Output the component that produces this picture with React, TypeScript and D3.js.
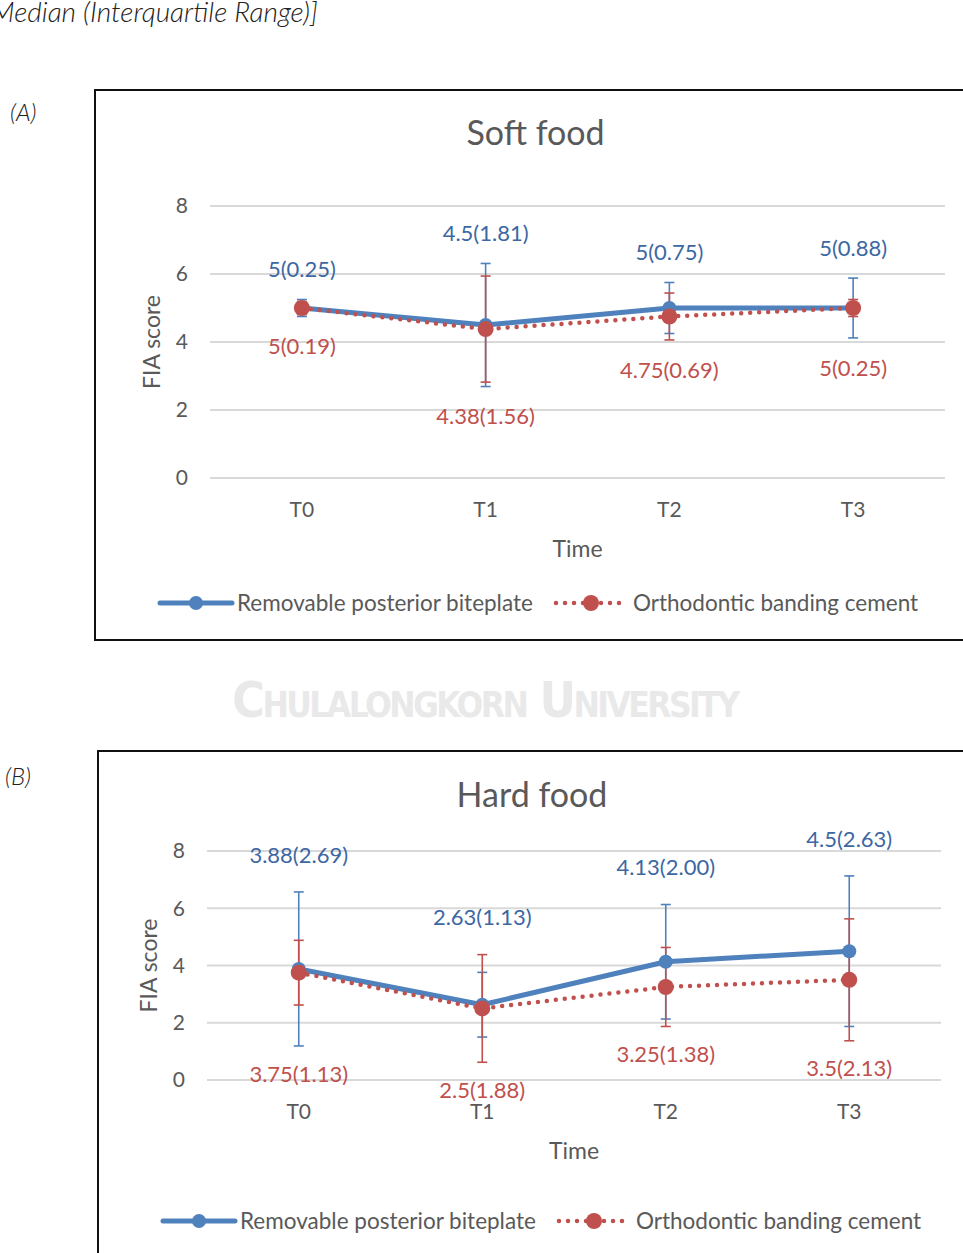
import React from 'react';
import * as d3 from 'd3';

// time points
const times = ['T0', 'T1', 'T2', 'T3'];
const yTicks = [0, 2, 4, 6, 8];

// soft food: median and interquartile range
const softBiteplate = [5, 4.5, 5, 5];
const softBiteplateIqr = [0.25, 1.81, 0.75, 0.88];
const softCement = [5, 4.38, 4.75, 5];
const softCementIqr = [0.19, 1.56, 0.69, 0.25];

// hard food
const hardBiteplate = [3.88, 2.63, 4.13, 4.5];
const hardBiteplateIqr = [2.69, 1.13, 2.0, 2.63];
const hardCement = [3.75, 2.5, 3.25, 3.5];
const hardCementIqr = [1.13, 1.88, 1.38, 2.13];

const seriesNames = ['Removable posterior biteplate', 'Orthodontic banding cement'];

const BLUE = '#4f81bd';
const BLUE_TEXT = '#3c67a3';
const RED = '#c0504d';
const GREY = '#595959';
const FONT = 'Lato, "Open Sans", sans-serif';

function Chart(props) {
    const { top, left, plotLeft, plotRight, plotTop, plotBottom, title, titleY, blue, blueIqr, red, redIqr,
        gapUp, gapDown, boxBottom, legendX, legendY } = props;

    const x = d3.scaleBand().domain(times).range([plotLeft, plotRight]).padding(0);
    const y = d3.scaleLinear().domain([0, 8]).range([plotBottom, plotTop]);
    const cx = (i) => x(times[i]) + x.bandwidth() / 2;

    const line = d3.line().x((d, i) => cx(i)).y(d => y(d));

    const errorBar = (vals, iqr, color, key) => vals.map((v, i) => {
        const y1 = y(v + iqr[i]), y2 = y(v - iqr[i]);
        return (
            <g key={key + i} stroke={color} strokeWidth={1.6}>
                <line x1={cx(i)} x2={cx(i)} y1={y1} y2={y2} />
                <line x1={cx(i) - 5} x2={cx(i) + 5} y1={y1} y2={y1} />
                <line x1={cx(i) - 5} x2={cx(i) + 5} y1={y2} y2={y2} />
            </g>
        );
    });

    const label = (v, iqr) => `${v}(${iqr.toFixed(2)})`;

    const midX = (plotLeft + plotRight) / 2;

    return (
        <g>
            <path d={`M${963},${top} H${left} V${boxBottom}${boxBottom < 1253 ? ' H963' : ''}`} fill="none" stroke="#111" strokeWidth={2} />
            <text x={midX - 42} y={titleY} dy="0.35em" textAnchor="middle" fontSize={34} fill={GREY} fontFamily={FONT}>{title}</text>

            {yTicks.map(t => (
                <g key={t}>
                    <line x1={plotLeft} x2={plotRight} y1={y(t)} y2={y(t)} stroke="#d9d9d9" strokeWidth={2} />
                    <text x={plotLeft - 22} y={y(t)} dy="0.35em" textAnchor="end" fontSize={21} fill={GREY} fontFamily={FONT}>{t}</text>
                </g>
            ))}

            <text transform={`translate(${plotLeft - 58},${y(4)}) rotate(-90)`} textAnchor="middle" dy="0.35em" fontSize={23} fill={GREY} fontFamily={FONT}>FIA score</text>

            {times.map((t, i) => (
                <text key={t} x={cx(i)} y={plotBottom + 32} dy="0.35em" textAnchor="middle" fontSize={21} fill={GREY} fontFamily={FONT}>{t}</text>
            ))}
            <text x={midX} y={plotBottom + 71} dy="0.35em" textAnchor="middle" fontSize={23} fill={GREY} fontFamily={FONT}>Time</text>

            <path d={line(blue)} fill="none" stroke={BLUE} strokeWidth={5} strokeLinejoin="round" />
            <path d={line(red)} fill="none" stroke={RED} strokeWidth={4.5} strokeDasharray="0 9" strokeLinecap="round" />

            {errorBar(blue, blueIqr, BLUE, 'b')}
            {errorBar(red, redIqr, RED, 'r')}

            {blue.map((v, i) => <circle key={'bc' + i} cx={cx(i)} cy={y(v)} r={7} fill={BLUE} />)}
            {red.map((v, i) => <circle key={'rc' + i} cx={cx(i)} cy={y(v)} r={8} fill={RED} />)}

            {blue.map((v, i) => {
                const hi = Math.max(v + blueIqr[i], red[i] + redIqr[i]);
                return <text key={'bl' + i} x={cx(i)} y={y(hi) - gapUp} dy="0.35em" textAnchor="middle" fontSize={22} fill={BLUE_TEXT} fontFamily={FONT}>{label(v, blueIqr[i])}</text>;
            })}
            {red.map((v, i) => {
                const lo = Math.min(v - redIqr[i], blue[i] - blueIqr[i]);
                return <text key={'rl' + i} x={cx(i)} y={y(lo) + gapDown} dy="0.35em" textAnchor="middle" fontSize={22} fill={RED} fontFamily={FONT}>{label(v, redIqr[i])}</text>;
            })}

            <g transform={`translate(${legendX},${legendY})`}>
                <line x1={0} x2={72} y1={0} y2={0} stroke={BLUE} strokeWidth={5} strokeLinecap="round" />
                <circle cx={36} cy={0} r={7} fill={BLUE} />
                <text x={77} y={0} dy="0.35em" fontSize={22.5} fill={GREY} fontFamily={FONT}>{seriesNames[0]}</text>
                <line x1={396} x2={466} y1={0} y2={0} stroke={RED} strokeWidth={4.5} strokeDasharray="0 9" strokeLinecap="round" />
                <circle cx={431} cy={0} r={8} fill={RED} />
                <text x={473} y={0} dy="0.35em" fontSize={22.5} fill={GREY} fontFamily={FONT}>{seriesNames[1]}</text>
            </g>
        </g>
    );
}

export default function App() {
    return (
        <svg width={963} height={1253} style={{ position: 'absolute', left: 0, top: 0, background: '#fff' }}>
            <text x={-9} y={22} fontSize={28} fontStyle="italic" fill="#222" fontFamily={FONT} fontWeight={300}>Median (Interquartile Range)]</text>

            <text x={10} y={121} fontSize={24} fontStyle="italic" fill="#222" fontFamily={FONT} fontWeight={300}>(A)</text>
            <text x={5} y={785} fontSize={24} fontStyle="italic" fill="#222" fontFamily={FONT} fontWeight={300}>(B)</text>

            <text x={486} y={717} textAnchor="middle" fontSize={50} fontWeight={700} fill="#e9e9e9" fontFamily='"Liberation Sans Narrow", "DejaVu Sans Condensed", sans-serif' style={{ fontVariant: 'small-caps' }} textLength={508}>Chulalongkorn University</text>

            <Chart top={90} left={95} boxBottom={640} plotLeft={210} plotRight={945} plotTop={206} plotBottom={478}
                title="Soft food" titleY={133} legendX={160} legendY={603}
                blue={softBiteplate} blueIqr={softBiteplateIqr} red={softCement} redIqr={softCementIqr} gapUp={30} gapDown={30} />
            <Chart top={751} left={98} boxBottom={1253} plotLeft={207} plotRight={941} plotTop={851} plotBottom={1080}
                title="Hard food" titleY={795} legendX={163} legendY={1221}
                blue={hardBiteplate} blueIqr={hardBiteplateIqr} red={hardCement} redIqr={hardCementIqr} gapUp={37} gapDown={28} />
        </svg>
    );
}
